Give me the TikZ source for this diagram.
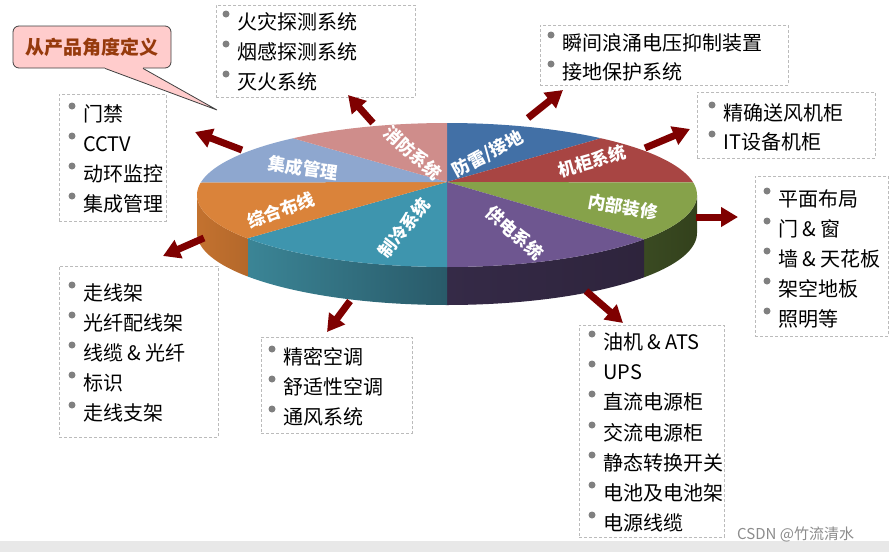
\documentclass[tikz,border=0pt]{standalone}
\usepackage{fontspec}
\setmainfont{Noto Sans CJK SC}
\usetikzlibrary{arrows.meta}
\definecolor{boxgray}{HTML}{BBBBBB}
\definecolor{dotgray}{HTML}{808080}
\definecolor{arrowred}{HTML}{7F0000}
\definecolor{cBlue}{HTML}{4270A6}
\definecolor{cRed}{HTML}{A84543}
\definecolor{cGreen}{HTML}{86A24A}
\definecolor{cPurple}{HTML}{6E5690}
\definecolor{cTeal}{HTML}{3E95AE}
\definecolor{cOrange}{HTML}{DA833A}
\definecolor{cLight}{HTML}{8EA7CF}
\definecolor{cPink}{HTML}{CF8D8B}
\definecolor{sGreenA}{HTML}{3A4A22}
\definecolor{sGreenB}{HTML}{33411C}
\definecolor{sPurpA}{HTML}{352A47}
\definecolor{sPurpB}{HTML}{2E243C}
\definecolor{sTealA}{HTML}{3B8596}
\definecolor{sTealB}{HTML}{295A69}
\definecolor{sOrA}{HTML}{C3722F}
\definecolor{sOrB}{HTML}{B4682B}
\definecolor{calloutfill}{HTML}{FFCCCC}
\definecolor{callouttext}{HTML}{963A0C}
\definecolor{bandgray}{HTML}{E8E8E8}
\newcommand\mylistitem[4]{%
  \node[bulletdot] (#1-b) at ({#2-11},{#3-8}) {};
  \node[itemtext] (#1) at (#2,{#3+7}) {#4};}
\newcommand\mypieslice[3]{%
  \fill[#3] (apex) -- plot[domain=#1:#2,samples=50,variable=\t]
    ({447+250*cos(\t)},{195+72*sin(\t)}) -- cycle;}
\newcommand\mypieside[4]{%
  \shade[left color=#3,right color=#4]
    plot[domain=#1:#2,samples=50,variable=\t] ({447+250*cos(\t)},{195+72*sin(\t)})
    -- plot[domain=#2:#1,samples=50,variable=\t] ({447+250*cos(\t)},{233+72*sin(\t)})
    -- cycle;}
\begin{document}
\begin{tikzpicture}[x=1pt,y=-1pt,
  listbox/.style={draw=boxgray,dash pattern=on 3pt off 2pt,line width=0.8pt,
    anchor=north west,inner sep=0pt},
  itemtext/.style={anchor=base west,inner sep=0pt,text=black,
    font=\fontsize{20}{22}\selectfont},
  bulletdot/.style={circle,fill=dotgray,inner sep=0pt,minimum size=7pt},
  slicelabel/.style={text=white,inner sep=0pt,
    font=\bfseries\fontsize{17.5}{19}\selectfont},
  bigarrow/.style={draw=arrowred,line width=7pt,
    -{Triangle[width=19pt,length=17pt]}},
  calloutbox/.style={draw=black!75,line width=0.8pt,fill=calloutfill,
    rounded corners=6pt,minimum width=158pt,minimum height=42pt,inner sep=0pt,
    text=callouttext,font=\bfseries\fontsize{19}{21}\selectfont}]
\useasboundingbox (0,0) rectangle (889,552);
\fill[white] (0,0) rectangle (889,552);
\fill[bandgray] (0,541) rectangle (889,552);

% ---- pie ----
\coordinate (apex) at (447,182);
\mypieside{0}{38}{sGreenA}{sGreenB}
\mypieside{38}{90}{sPurpA}{sPurpB}
\mypieside{90}{143}{sTealA}{sTealB}
\mypieside{143}{180}{sOrA}{sOrB}
\mypieslice{-90}{-52}{cBlue}
\mypieslice{-52}{-10}{cRed}
\mypieslice{-10}{38}{cGreen}
\mypieslice{38}{90}{cPurple}
\mypieslice{90}{143}{cTeal}
\mypieslice{143}{190}{cOrange}
\mypieslice{190}{232}{cLight}
\mypieslice{232}{270}{cPink}

\node[slicelabel,rotate=-42] (sFire) at (413,153) {消防系统};
\node[slicelabel,rotate=28] (sLight) at (488,154) {防雷/接地};
\node[slicelabel,rotate=16] (sCab) at (592,161) {机柜系统};
\node[slicelabel,rotate=-10] (sDec) at (623,207) {内部装修};
\node[slicelabel,rotate=-42] (sPow) at (515,233) {供电系统};
\node[slicelabel,rotate=52] (sCool) at (404,228) {制冷系统};
\node[slicelabel,rotate=20] (sWire) at (281,210) {综合布线};
\node[slicelabel,rotate=-8] (sMgmt) at (303,168) {集成管理};

% ---- list boxes ----
\node[listbox,minimum width=199pt,minimum height=92pt] (fireBox) at (216,5) {};
\mylistitem{f1}{237}{22}{火灾探测系统}
\mylistitem{f2}{237}{52}{烟感探测系统}
\mylistitem{f3}{237}{82}{灭火系统}

\node[listbox,minimum width=248pt,minimum height=60pt] (surgeBox) at (540,25) {};
\mylistitem{g1}{562}{43}{瞬间浪涌电压抑制装置}
\mylistitem{g2}{562}{72}{接地保护系统}

\node[listbox,minimum width=178pt,minimum height=66pt] (cabBox) at (697,92) {};
\mylistitem{c1}{723}{113}{精确送风机柜}
\mylistitem{c2}{723}{142}{IT设备机柜}

\node[listbox,minimum width=133pt,minimum height=160pt] (decBox) at (755,176) {};
\mylistitem{d1}{778}{199}{平面布局}
\mylistitem{d2}{778}{229}{门 \& 窗}
\mylistitem{d3}{778}{259}{墙 \& 天花板}
\mylistitem{d4}{778}{289}{架空地板}
\mylistitem{d5}{778}{319}{照明等}

\node[listbox,minimum width=145pt,minimum height=212pt] (powBox) at (579,325) {};
\mylistitem{p1}{603}{342}{油机 \& ATS}
\mylistitem{p2}{603}{372}{UPS}
\mylistitem{p3}{603}{402}{直流电源柜}
\mylistitem{p4}{603}{433}{交流电源柜}
\mylistitem{p5}{603}{463}{静态转换开关}
\mylistitem{p6}{603}{493}{电池及电池架}
\mylistitem{p7}{603}{523}{电源线缆}

\node[listbox,minimum width=159pt,minimum height=171pt] (wireBox) at (59,266) {};
\mylistitem{w1}{83}{293}{走线架}
\mylistitem{w2}{83}{323}{光纤配线架}
\mylistitem{w3}{83}{353}{线缆 \& 光纤}
\mylistitem{w4}{83}{383}{标识}
\mylistitem{w5}{83}{413}{走线支架}

\node[listbox,minimum width=151pt,minimum height=96pt] (coolBox) at (261,337) {};
\mylistitem{k1}{283}{357}{精密空调}
\mylistitem{k2}{283}{387}{舒适性空调}
\mylistitem{k3}{283}{417}{通风系统}

\node[listbox,minimum width=107pt,minimum height=127pt] (mgmtBox) at (59,94) {};
\mylistitem{m1}{83}{114}{门禁}
\mylistitem{m2}{83}{144}{CCTV}
\mylistitem{m3}{83}{174}{动环监控}
\mylistitem{m4}{83}{204}{集成管理}

% ---- arrows ----
\coordinate (a1s) at (373,123); \coordinate (a1e) at (348,95);
\coordinate (a2s) at (242,150); \coordinate (a2e) at (195,132);
\coordinate (a3s) at (528,118); \coordinate (a3e) at (563,90);
\coordinate (a4s) at (645,148); \coordinate (a4e) at (690,129);
\coordinate (a5s) at (204,238); \coordinate (a5e) at (163,256);
\coordinate (a6s) at (350,301); \coordinate (a6e) at (327,332);
\coordinate (a7s) at (586,291); \coordinate (a7e) at (623,323);
\coordinate (a8s) at (696,217); \coordinate (a8e) at (738,217);
\foreach \i in {1,...,8} {\draw[bigarrow] (a\i s) -- (a\i e);}

% ---- callout ----
\node[calloutbox] (cbox) at (92,47) {从产品角度定义};
\coordinate (pl) at ([xshift=13pt]cbox.south);
\coordinate (pr) at ([xshift=51pt]cbox.south);
\coordinate (ptip) at (217,110);
\fill[calloutfill] ([yshift=1.5pt]pl) rectangle ([yshift=-1pt]pr);
\fill[calloutfill] (pl) -- (ptip) -- (pr) -- cycle;
\draw[black!75,line width=0.8pt] (pl) -- (ptip) -- (pr);

% ---- watermark ----
\node[anchor=base west,inner sep=0pt,text=black!45,
  font=\fontsize{15}{17}\selectfont] (wm) at (737,539) {CSDN @竹流清水};
\end{tikzpicture}
\end{document}
